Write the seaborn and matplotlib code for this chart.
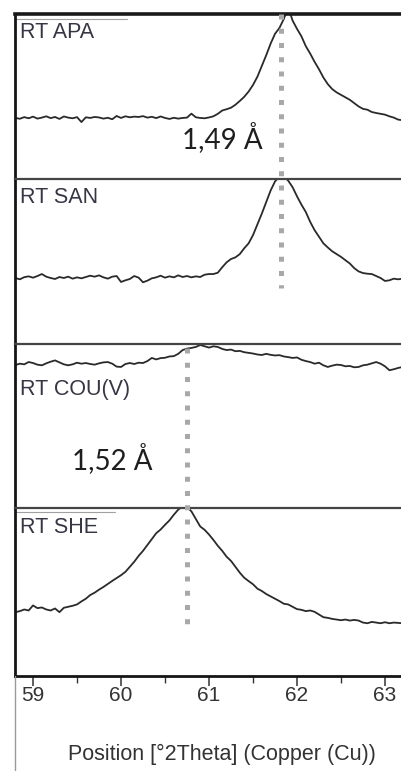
import numpy as np
import pandas as pd
import matplotlib
matplotlib.use("Agg")
import matplotlib.pyplot as plt
import seaborn as sns
from matplotlib.ticker import MultipleLocator
from matplotlib.lines import Line2D

# 2theta grid of the scans (0.05 deg steps)
two_theta = np.round(np.arange(58.80, 63.2001, 0.05), 2)

# relative intensity, % of each panel's height
apa = [37.0, 36.5, 37.5, 36.8, 37.8, 36.6, 37.2, 38.0, 36.9, 37.6,
       36.4, 37.9, 37.2, 36.8, 37.5, 34.5, 37.4, 37.0, 37.6, 37.3,
       36.6, 37.1, 36.2, 38.2, 37.0, 38.0, 37.4, 37.8, 37.6, 38.1,
       37.2, 37.7, 36.9, 37.9, 37.0, 36.4, 37.1, 36.6, 37.0, 37.2,
       39.6, 37.4, 37.0, 36.8, 37.3, 38.0, 39.5, 41.5, 42.3, 43.2,
       45.0, 47.3, 49.8, 53.0, 57.0, 62.0, 68.5, 75.0, 82.0, 88.0,
       91.5, 97.0, 104.0, 96.0, 91.0, 86.5, 80.5, 76.0, 71.0, 66.5,
       61.5, 57.5, 54.5, 52.5, 51.0, 49.5, 48.0, 46.0, 44.0, 42.5,
       42.0, 40.6, 40.0, 39.5, 39.0, 38.0, 37.2, 36.0, 35.6]
san = [40.0, 39.2, 40.5, 41.0, 40.2, 41.2, 42.4, 40.8, 40.0, 39.4,
       40.6, 40.0, 40.8, 39.6, 40.4, 39.8, 40.6, 41.4, 40.8, 41.6,
       40.4, 39.6, 40.8, 41.2, 37.6, 38.6, 39.4, 41.2, 40.2, 37.4,
       38.4, 39.8, 40.4, 41.4, 40.2, 41.0, 40.4, 41.6, 40.6, 41.2,
       40.4, 41.0, 40.6, 42.0, 42.4, 42.4, 43.2, 46.5, 49.5, 51.5,
       52.5, 54.5, 58.0, 61.0, 66.0, 72.5, 79.0, 86.0, 93.0, 98.5,
       101.5, 101.5, 99.0, 95.0, 89.5, 84.5, 80.0, 74.0, 69.0, 65.0,
       61.0, 58.5, 56.2, 54.5, 52.8, 50.8, 48.8, 46.0, 44.0, 43.0,
       42.6, 42.4, 41.2, 40.0, 38.2, 38.6, 39.6, 39.2, 39.6]
cou = [87.2, 88.0, 87.6, 89.0, 88.4, 87.4, 87.0, 88.2, 89.2, 90.0,
       88.8, 87.6, 87.0, 87.6, 88.6, 88.0, 88.4, 87.8, 87.4, 88.2,
       88.8, 89.0, 88.0, 86.2, 86.0, 87.8, 88.4, 87.8, 88.6, 88.4,
       89.6, 91.5, 90.6, 91.4, 91.6, 92.4, 92.6, 94.0, 96.3, 97.2,
       97.6, 98.2, 99.4, 98.6, 97.8, 98.6, 98.2, 97.0, 96.3, 96.6,
       95.6, 95.8, 95.0, 94.6, 94.2, 93.6, 93.3, 94.0, 93.4, 93.0,
       93.2, 92.4, 92.0, 91.5, 91.8, 90.4, 89.6, 89.0, 88.0, 88.6,
       87.0, 86.0, 86.8, 87.4, 87.2, 86.4, 86.6, 85.8, 86.0, 87.0,
       87.4, 88.2, 89.0, 88.0, 86.4, 84.0, 84.6, 85.4, 86.0]
she = [38.0, 38.6, 39.6, 39.0, 42.0, 40.4, 40.8, 39.6, 39.0, 40.2,
       38.0, 40.6, 41.2, 41.8, 42.6, 44.4, 46.0, 48.2, 49.6, 51.4,
       53.0, 54.8, 56.6, 58.3, 60.0, 62.0, 65.0, 68.0, 71.5, 74.5,
       78.0, 81.5, 85.0, 87.2, 90.0, 92.6, 96.0, 99.0, 101.0, 100.5,
       98.0, 93.5, 89.0, 87.0, 84.2, 81.0, 77.5, 74.5, 71.0, 68.5,
       65.0, 61.5, 58.5, 56.5, 54.6, 52.0, 50.6, 48.8, 47.4, 46.0,
       44.6, 43.0, 42.6, 41.2, 39.8, 39.4, 38.6, 39.0, 38.2, 36.6,
       35.0, 34.6, 34.0, 33.6, 33.2, 33.6, 33.0, 33.4, 33.0, 31.8,
       31.4, 32.2, 31.8, 31.4, 32.0, 31.4, 31.8, 31.6, 31.4]

sample_names = ["RT APA", "RT SAN", "RT COU(V)", "RT SHE"]
peak_positions = [61.82, 60.75]
d_labels = ["1,49 Å", "1,52 Å"]
x_ticks = [59, 60, 61, 62, 63]

series = [apa, san, cou, she]
for s in series:
    assert len(s) == len(two_theta)

df = pd.concat(
    [pd.DataFrame({"two_theta": two_theta, "intensity": s, "sample": n})
     for n, s in zip(sample_names, series)],
    ignore_index=True,
)

sns.set_style("white")
plt.rcParams["font.family"] = ["Liberation Sans", "DejaVu Sans"]

W, H = 401, 771
fig = plt.figure(figsize=(W / 100, H / 100), dpi=100)

# panel rows in pixels (top, bottom)
rows = [(14, 179), (179, 344), (344, 508), (508, 676)]
left_px = 15
label_drop = [8, 8, 35, 9]

axes = []
for i, (name, (top, bot)) in enumerate(zip(sample_names, rows)):
    ax = fig.add_axes([left_px / W, 1 - bot / H, (W - left_px) / W, (bot - top) / H])
    sns.lineplot(data=df[df["sample"] == name], x="two_theta", y="intensity",
                 ax=ax, color="#2a2a2a", lw=1.3, estimator=None, sort=False)
    ax.set_xlim(58.795, 63.182)
    ax.set_ylim(0, 100)
    ax.set_xlabel("")
    ax.set_ylabel("")
    ax.set_yticks([])
    ax.text(5 / (W - left_px), 1 - label_drop[i] / (bot - top), name,
            transform=ax.transAxes, va="top", ha="left",
            fontsize=15.5, color="#363645")
    ax.spines["right"].set_visible(False)
    ax.spines["left"].set_linewidth(2.0)
    ax.spines["left"].set_color("#151515")
    ax.spines["top"].set_linewidth(1.6)
    ax.spines["top"].set_color("#454545")
    if i < 3:
        ax.spines["bottom"].set_visible(False)
        ax.tick_params(bottom=False, labelbottom=False, left=False)
    axes.append(ax)

axes[0].spines["top"].set_linewidth(2.6)
axes[0].spines["top"].set_color("#1a1a1a")

# little grey header lines next to two of the labels
axes[0].plot([0, 0.29], [1 - 5 / 165] * 2, transform=axes[0].transAxes,
             color="#a0a0a0", lw=0.8)
axes[3].plot([0, 0.26], [1 - 4 / 168] * 2, transform=axes[3].transAxes,
             color="#a0a0a0", lw=0.8)

# dotted peak markers
dot_style = dict(color="#a8a8a8", lw=3.6, linestyle=(0, (1, 1.85)),
                 solid_capstyle="butt", dash_capstyle="butt", clip_on=False, zorder=5)
axes[1].plot([peak_positions[0]] * 2, [200, 34], **dot_style)
axes[3].plot([peak_positions[1]] * 2, [195, 30], **dot_style)

axes[0].text(60.69, 18.8, d_labels[0], fontsize=20, color="#1e1e1e",
             family=["Lato", "DejaVu Sans"], ha="left", va="baseline")
axes[2].text(59.44, 23.8, d_labels[1], fontsize=20, color="#1e1e1e",
             family=["Lato", "DejaVu Sans"], ha="left", va="baseline")

ax = axes[3]
ax.spines["bottom"].set_linewidth(2.0)
ax.spines["bottom"].set_color("#151515")
ax.set_xticks(x_ticks)
ax.xaxis.set_minor_locator(MultipleLocator(0.5))
ax.tick_params(axis="x", which="major", direction="out", length=7.2, width=1.1,
               color="#333333", labelsize=15, labelcolor="#333333", pad=0, bottom=True)
ax.tick_params(axis="x", which="minor", direction="out", length=5, width=1.0,
               color="#333333", bottom=True)
ax.tick_params(left=False)
ax.set_xlabel("Position [°2Theta] (Copper (Cu))", fontsize=15.5, color="#333333")
ax.xaxis.set_label_coords(207 / 386, -0.403)

fig.add_artist(Line2D([left_px / W] * 2, [0, 1 - 676 / H], color="#9a9a9a", lw=1.0))

plt.savefig("out.png", dpi=100)
